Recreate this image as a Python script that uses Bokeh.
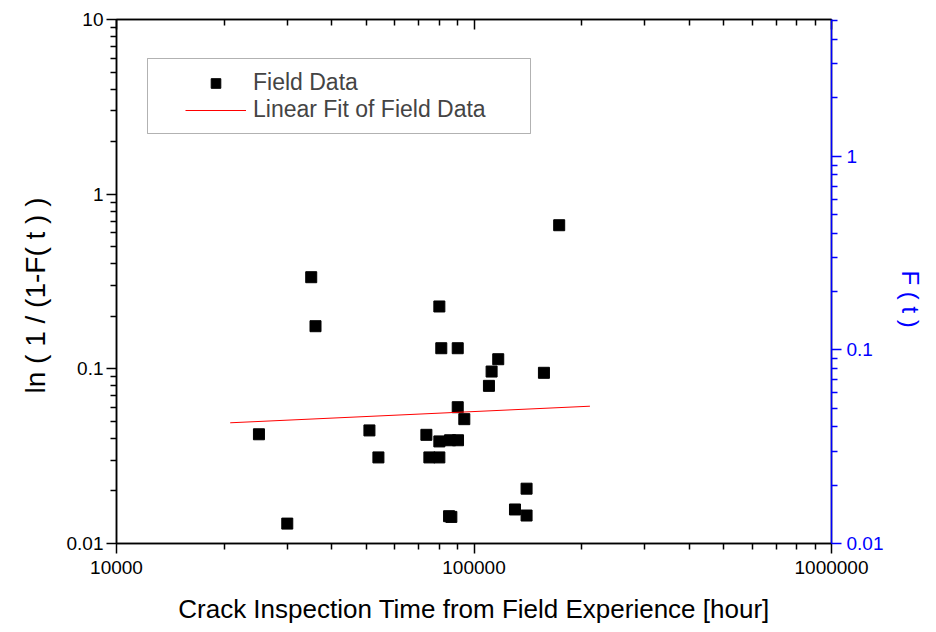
from bokeh.plotting import figure
from bokeh.models import (LogAxis, Range1d, LogScale, FixedTicker, CustomJSTickFormatter,
                          BoxAnnotation, Title)
from bokeh.embed import file_html
from bokeh.resources import INLINE

# ---- data ----
inspect_hours = [173100, 35050, 80000, 36030, 81000, 90050, 116900, 112000, 156900,
                 110100, 90050, 93950, 25030, 50990, 73590, 80000, 85700, 90220,
                 54030, 75020, 80000, 140300, 130200, 140300, 85170, 86430, 30040]
ln_inv_rel = [0.664, 0.3346, 0.2275, 0.1754, 0.1312, 0.1312, 0.1135, 0.0965, 0.0949,
              0.0799, 0.0603, 0.0515, 0.0422, 0.0444, 0.0419, 0.0384, 0.0390, 0.0390,
              0.0311, 0.0311, 0.0311, 0.0206, 0.01566, 0.01446, 0.01433, 0.0142, 0.0130]
fit_hours = [20800, 211000]
fit_values = [0.0491, 0.0611]

x_major = [1e4, 1e5, 1e6]
y_major = [0.01, 0.1, 1, 10]
f_major = [0.01, 0.1, 1]
x_range = (1e4, 1e6)
y_range = (0.01, 10)
f_range = (0.01, 5.08)

x_title = "Crack Inspection Time from Field Experience [hour]"
y_title = "ln ( 1 / (1-F( t ) )"
f_title = "F ( t )"

def minors(decades, top):
    out = []
    for d in decades:
        for k in range(2, 10):
            v = k * d
            if v <= top:
                out.append(v)
    return out

x_minor = minors([1e4, 1e5], 1e6)
y_minor = minors([0.01, 0.1, 1], 10)
f_minor = minors([0.01, 0.1, 1], 5.08)

FONT = "Liberation Sans"
BLUE = "#0000FF"

p = figure(width=936, height=632, x_axis_type="log", y_axis_type="log",
           x_range=x_range, y_range=y_range, output_backend="svg",
           toolbar_location=None, min_border_left=116, min_border_right=104,
           min_border_top=19, min_border_bottom=89)
p.xgrid.visible = False
p.ygrid.visible = False
p.outline_line_color = "black"
p.outline_line_width = 1.5
p.background_fill_color = "white"
p.border_fill_color = "white"

fmt = CustomJSTickFormatter(code="return parseFloat(tick.toPrecision(6)).toString();")

def style_axis(ax, major, minor, color="black"):
    ax.ticker = FixedTicker(ticks=major, minor_ticks=minor)
    ax.formatter = fmt
    ax.axis_line_color = color
    ax.axis_line_width = 1.5
    ax.major_tick_line_color = color
    ax.minor_tick_line_color = color
    ax.major_tick_line_width = 1.5
    ax.minor_tick_line_width = 1.5
    ax.major_tick_out = 10
    ax.major_tick_in = 0
    ax.minor_tick_out = 6
    ax.minor_tick_in = 0
    ax.major_label_text_font = FONT
    ax.major_label_text_font_size = "19px"
    ax.major_label_text_color = color
    ax.axis_label_text_font = FONT
    ax.axis_label_text_font_size = "24px"
    ax.axis_label_text_font_style = "normal"
    ax.axis_label_text_color = color

xa = p.xaxis[0]
style_axis(xa, x_major, x_minor)
xa.axis_label = x_title
xa.axis_label_text_font_size = "26px"
xa.major_label_standoff = 7
xa.axis_label_standoff = 17

ya = p.yaxis[0]
style_axis(ya, y_major, y_minor)
ya.major_label_standoff = 3

p.extra_y_ranges = {"F": Range1d(*f_range)}
p.extra_y_scales = {"F": LogScale()}
ra = LogAxis(y_range_name="F")
style_axis(ra, f_major, f_minor, BLUE)
ra.major_label_standoff = 5
p.add_layout(ra, "right")

ta = LogAxis()
style_axis(ta, x_major, x_minor)
ta.major_tick_out = 0
ta.minor_tick_out = 0
ta.major_tick_in = 10
ta.minor_tick_in = 6
ta.formatter = CustomJSTickFormatter(code="return '';")
ta.major_label_text_font_size = "0px"
ta.major_label_standoff = 0
p.add_layout(ta, "above")

# side titles (used as axis titles so they can be shifted along the axis)
p.add_layout(Title(text=y_title, align="left", offset=150, standoff=25,
                   text_font=FONT, text_font_size="28px", text_font_style="normal",
                   text_color="black"), "left")
p.add_layout(Title(text=f_title, align="left", offset=251, standoff=21,
                   text_font=FONT, text_font_size="24px", text_font_style="normal",
                   text_color=BLUE), "right")

box = BoxAnnotation(left=31, right=414, bottom=410, top=485,
                    left_units="screen", right_units="screen",
                    bottom_units="screen", top_units="screen",
                    fill_color="white", fill_alpha=1.0,
                    line_color="black", line_width=1)
p.add_layout(box)

p.scatter(inspect_hours, ln_inv_rel, marker="square", size=11, color="black",
          legend_label="Field Data")
p.line(fit_hours, fit_values, color="red", line_width=1,
       legend_label="Linear Fit of Field Data")

lg = p.legend[0]
lg.location = (69, 420)
lg.border_line_alpha = 0
lg.background_fill_alpha = 0
lg.padding = 0
lg.margin = 0
lg.spacing = 0
lg.glyph_width = 61
lg.glyph_height = 24
lg.label_height = 24
lg.label_standoff = 7
lg.label_text_font = FONT
lg.label_text_font_size = "23px"

open("out.html", "w").write(file_html(p, INLINE))
